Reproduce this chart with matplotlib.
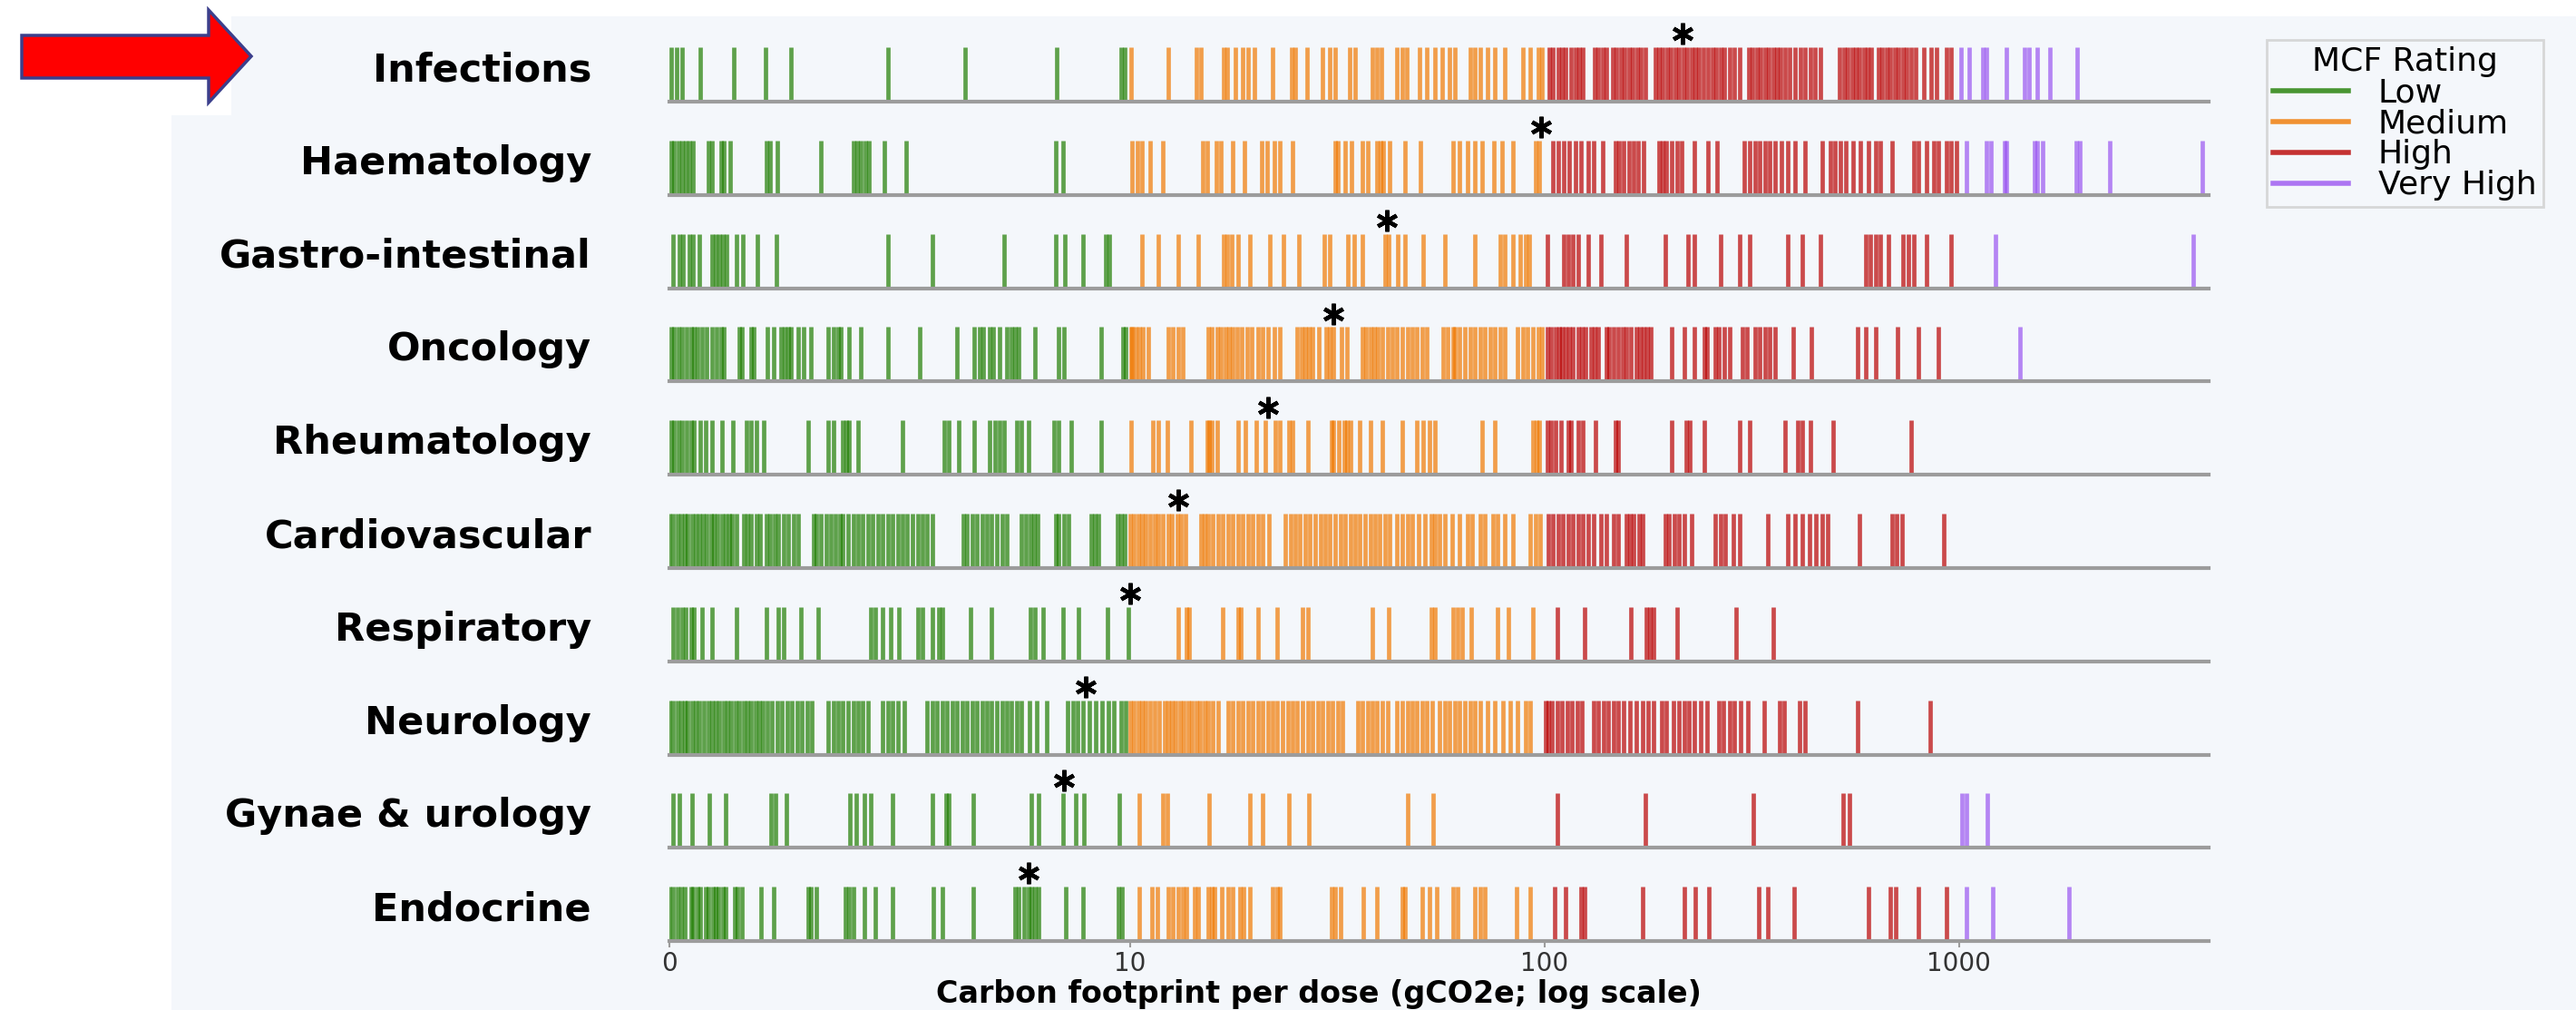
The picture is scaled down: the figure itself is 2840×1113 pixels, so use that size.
import matplotlib
matplotlib.use("Agg")
import matplotlib.pyplot as plt
from matplotlib.patches import Rectangle, Polygon
from matplotlib.lines import Line2D
from matplotlib.ticker import NullLocator

# ---------------- data ----------------
categories = ["Infections", "Haematology", "Gastro-intestinal", "Oncology", "Rheumatology",
              "Cardiovascular", "Respiratory", "Neurology", "Gynae & urology", "Endocrine"]

infections = [0.04, 0.15, 0.28, 0.68, 1.40, 2.08, 2.64, 4.74, 6.43, 8.42, 9.80, 9.89,
              10.04, 12.35, 14.5, 14.8, 16.8, 17.2, 17.95, 18.7, 19.25, 20.0, 22.1, 24.5, 25.0, 26.8,
              29.1, 30.3, 31.2, 33.9, 34.9, 38.4, 39.5, 40.4, 44.1, 45.3, 46.6, 50.0, 52.0,
              54.3, 56.6, 59.0, 60.7, 66.1, 68.0, 69.9, 72.9, 76.0, 80.4, 88.6, 92.4, 96.4, 98.5,
              102.5, 105.0, 107.8, 110.3, 112.6, 115.9, 118.6, 121.3, 124.0, 131.9, 134.9, 137.9,
              141.0, 146.0, 149.3, 152.7, 156.0, 159.6, 163.2, 167.0, 170.8, 174.7, 184.7, 188.8,
              193.1, 197.5, 202.0, 206.6, 211.2, 216.0, 220.9, 225.9, 231.1, 236.3, 241.7, 248.4,
              253.9, 259.7, 265.6, 271.6, 279.4, 287.3, 295.5, 310.9, 318.0, 325.2, 332.4, 340.0,
              347.7, 355.6, 363.7, 371.9, 380.1, 391.0, 402.1, 413.5, 425.2, 437.2, 449.6, 462.4,
              515.8, 527.5, 539.5, 551.7, 564.2, 575.2, 588.5, 601.8, 615.5, 638.6, 653.1, 667.9,
              683.1, 698.5, 714.4, 730.6, 747.1, 765.5, 787.2, 821.5, 857.3, 880.4, 931, 957,
              1013, 1059, 1139, 1165, 1302, 1437, 1477, 1541, 1653, 1928]

haematology = [0.04, 0.11, 0.19, 0.28, 0.36, 0.44, 0.51, 0.84, 0.92, 1.12, 1.19, 1.32, 2.10, 2.19,
               2.34, 3.29, 3.99, 4.07, 4.15, 4.26, 4.34, 4.66, 5.14, 8.40, 8.54,
               10.1, 10.4, 10.7, 11.2, 12.0, 15.0, 15.4, 16.2, 16.6, 17.7, 18.9, 20.8, 21.4, 22.3,
               23.0, 24.7, 31.2, 31.8, 33.0, 34.2, 36.4, 37.5, 39.5, 40.2, 40.9, 42.4, 46.1, 50.3,
               60.3, 62.5, 65.2, 68.0, 70.8, 75.5, 78.9, 83.8, 95.0, 97.2,
               105.0, 107.8, 111.5, 114.7, 118.6, 122.3, 127.5, 131.1, 137.9, 148.5, 151.5, 155.0,
               159.6, 164.1, 168.0, 173.7, 188.8, 193.1, 196.9, 202.6, 208.4, 214.3, 229.7, 248.4,
               260.5, 303.9, 312.5, 321.4, 330.5, 339.9, 349.6, 359.5, 372.4, 385.5, 402.1, 425.2,
               468.9, 489.1, 502.9, 517.2, 531.9, 554.7, 578.5, 603.4, 629.2, 647.1, 690, 777, 799,
               834, 870, 893, 931, 957, 985,
               1042, 1165, 1192, 1287, 1302, 1520, 1541, 1594, 1917, 1955, 2314, 3860]

gastro = [0.08, 0.22, 0.30, 0.44, 0.51, 0.65, 0.92, 1.01, 1.08, 1.16, 1.24, 1.46, 1.59, 1.91, 2.32,
          4.74, 5.71, 7.27, 8.40, 8.58, 8.99, 9.48, 9.55,
          10.7, 11.7, 13.1, 14.6, 16.8, 17.2, 17.6, 18.2, 19.5, 21.8, 23.5, 25.6, 29.5, 30.4, 33.5,
          34.7, 36.3, 41.2, 42.0, 44.3, 46.0, 50.9, 57.4, 68.0, 78.1, 80.4, 83.8, 87.5, 90.1, 91.8,
          101.5, 111.5, 114.0, 116.9, 120.7, 127.5, 136.8, 157.3, 195.9, 222, 230, 265.6, 295.5,
          312.5, 385.5, 419.3, 462.4, 595, 611, 629, 647, 676, 734, 755, 777, 834, 957,
          1226, 3672]

oncology = [0.04, 0.11, 0.19, 0.28, 0.38, 0.47, 0.54, 0.62, 0.71, 0.81, 0.92, 1.03, 1.12, 1.19,
            1.51, 1.57, 1.78, 1.84, 2.13, 2.27, 2.43, 2.51, 2.59, 2.64, 2.80, 2.91, 3.07, 3.45,
            3.56, 3.67, 3.72, 3.91, 4.15, 4.74, 5.44, 6.25, 6.62, 6.73, 6.82, 6.95, 7.03, 7.16,
            7.32, 7.43, 7.51, 7.59, 7.94, 8.45, 8.56, 9.37, 9.85, 9.91,
            10.05, 10.12, 10.32, 10.53, 10.76, 11.06, 12.36, 12.71, 13.06, 13.39, 15.43, 15.79,
            16.23, 16.55, 17.02, 17.36, 17.71, 18.12, 18.63, 19.15, 19.69, 20.34, 20.91, 21.5,
            22.3, 23.05, 25.35, 25.93, 26.45, 26.98, 27.58, 28.56, 29.8, 30.4, 30.98, 32.4, 33.3,
            36.4, 37.2, 38.0, 38.9, 39.7, 40.63, 41.8, 42.9, 44.1, 45.4, 46.67, 48.0, 49.3, 50.7,
            52.1, 56.9, 58.5, 60.2, 60.7, 62.5, 64.3, 66.1, 68.0, 69.9, 71.8, 73.9, 76.0, 78.1,
            80.4, 86.2, 88.6, 91.1, 93.7, 96.4, 98.5,
            101.5, 103.6, 106.5, 108.4, 110.3, 112.4, 114.7, 117.3, 120.6, 122.9, 125.7, 129.3,
            131.9, 134.9, 141.0, 143.5, 146.8, 150.9, 154.1, 157.2, 161.8, 166.4, 169.7, 173.7,
            177.2, 180.6, 202.6, 217.2, 229.7, 242.9, 246.3, 258.4, 262.8, 271.6, 279.4, 299.7,
            308.2, 321.4, 330.5, 339.9, 349.6, 359.5, 397.3, 440, 570, 595, 629, 711, 799, 893,
            1404]

rheumatology = [0.04, 0.11, 0.19, 0.28, 0.38, 0.47, 0.54, 0.68, 0.79, 0.92, 1.14, 1.38, 1.67,
                1.78, 1.89, 2.05, 3.02, 3.45, 3.56, 3.77, 3.85, 3.91, 4.10, 5.06, 5.96, 6.07,
                6.28, 6.62, 6.95, 7.08, 7.16, 7.27, 7.54, 7.65, 7.79, 8.35, 8.45, 8.72, 9.37,
                10.05, 11.37, 11.69, 12.3, 14.0, 15.35, 15.5, 15.79, 16.23, 18.2, 19.0, 20.2,
                21.2, 22.4, 23.05, 24.2, 24.7, 26.83, 30.6, 31.0, 31.9, 32.8, 33.3, 34.0, 35.9,
                38.0, 40.6, 45.4, 49.3, 51.0, 52.8, 54.3, 70.8, 76.0, 93.7, 95.8, 96.9,
                101.5, 103.6, 106.5, 109.4, 114.0, 115.8, 120.6, 124.0, 132.9, 148.6, 150.9,
                202.6, 220.0, 224.6, 242.9, 295.5, 312.5, 380.1, 407.8, 419.3, 437.2, 496, 765.5]

cardiovascular = [0.01, 0.08, 0.17, 0.25, 0.33, 0.40, 0.49, 0.58, 0.65, 0.73, 0.81, 0.90, 0.97,
                  1.05, 1.14, 1.22, 1.30, 1.37, 1.46, 1.62, 1.70, 1.78, 1.89, 1.98, 2.10, 2.19,
                  2.28, 2.37, 2.48, 2.59, 2.70, 2.80, 3.13, 3.20, 3.29, 3.40, 3.50, 3.61, 3.70,
                  3.77, 3.88, 3.99, 4.10, 4.20, 4.31, 4.42, 4.53, 4.63, 4.74, 4.85, 4.96, 5.06,
                  5.17, 5.28, 5.39, 5.49, 5.60, 5.71, 6.39, 6.46, 6.57, 6.68, 6.79, 6.89, 7.00,
                  7.11, 7.22, 7.32, 7.65, 7.75, 7.83, 7.92, 8.00, 8.40, 8.45, 8.56, 8.67, 9.15,
                  9.23, 9.32, 9.72, 9.80, 9.88,
                  10.03, 10.24, 10.47, 10.71, 10.93, 11.2, 11.46, 11.69, 12.02, 12.36, 12.62,
                  12.98, 13.25, 13.62, 14.8, 15.1, 15.43, 15.86, 16.31, 16.77, 17.24, 17.71,
                  18.21, 18.72, 19.24, 19.78, 20.34, 20.91, 21.6, 23.7, 24.4, 25.05, 25.75, 26.5,
                  27.2, 28.0, 28.8, 29.6, 30.4, 31.3, 32.2, 33.1, 34.0, 35.0, 35.9, 36.9, 38.0,
                  39.0, 40.1, 41.2, 42.4, 44.0, 45.4, 46.7, 48.0, 49.6, 51.4, 53.2, 54.3, 55.8,
                  57.4, 59.8, 62.5, 65.2, 67.0, 69.9, 71.8, 75.0, 77.1, 80.4, 83.8, 92.4, 95.0,
                  97.7,
                  102.1, 105.0, 107.8, 110.9, 114.0, 117.3, 120.6, 124.0, 127.5, 131.1, 136.8,
                  141.0, 146.8, 150.9, 157.3, 160.4, 164.1, 168.8, 172.6, 195.4, 200.0, 205.4,
                  211.2, 217.2, 226.9, 258.4, 265.6, 273.3, 285.6, 295.5, 345.2, 385.5, 402.1,
                  419.3, 435, 452.6, 468.9, 482.3, 575, 688, 707, 727, 917]

respiratory = [0.08, 0.17, 0.28, 0.36, 0.47, 0.54, 0.71, 0.92, 1.46, 2.10, 2.37, 2.48, 2.86, 3.24,
               4.37, 4.47, 4.63, 4.80, 4.99, 5.39, 5.49, 5.71, 5.85, 5.93, 6.54, 7.00, 7.83, 7.94,
               8.11, 8.54, 8.89, 9.51, 9.96,
               13.06, 13.7, 13.9, 16.77, 18.21, 18.5, 20.34, 22.6, 26.1, 26.83, 38.4, 42.0, 53.2,
               54.3, 60.2, 61.6, 63.4, 66.7, 77.1, 82.0, 93.7,
               107.2, 124.7, 161.8, 176.1, 179.6, 183.6, 209.4, 289.7, 355.6]

neurology = [0.01, 0.08, 0.17, 0.25, 0.33, 0.40, 0.49, 0.58, 0.66, 0.75, 0.84, 0.92, 1.01, 1.09,
             1.18, 1.27, 1.35, 1.44, 1.52, 1.61, 1.70, 1.78, 1.87, 1.95, 2.04, 2.13, 2.23, 2.34,
             2.45, 2.56, 2.66, 2.77, 2.88, 2.99, 3.09, 3.45, 3.56, 3.67, 3.77, 3.88, 3.99, 4.10,
             4.20, 4.31, 4.63, 4.74, 4.85, 4.96, 5.10, 5.60, 5.71, 5.82, 5.93, 6.03, 6.14, 6.25,
             6.36, 6.46, 6.57, 6.68, 6.79, 6.89, 7.00, 7.11, 7.22, 7.32, 7.43, 7.54, 7.65, 7.81,
             7.97, 8.19, 8.65, 8.76, 8.86, 8.99, 9.12, 9.26, 9.40, 9.53, 9.66, 9.80, 9.91,
             10.03, 10.24, 10.47, 10.71, 10.93, 11.2, 11.5, 11.79, 12.1, 12.36, 12.62, 12.9, 13.2,
             13.5, 13.8, 14.1, 14.45, 14.77, 15.1, 15.43, 15.86, 16.31, 17.24, 17.71, 18.21, 18.72,
             19.24, 19.78, 20.34, 20.91, 21.5, 22.1, 22.7, 23.36, 24.0, 24.7, 25.35, 26.1, 26.83,
             27.6, 28.4, 29.2, 30.0, 30.81, 31.7, 32.6, 35.38, 36.4, 37.4, 38.4, 39.5, 40.63,
             41.8, 44.1, 45.4, 46.67, 48.0, 49.3, 50.7, 52.1, 53.6, 55.8, 57.4, 59.0, 60.7, 62.5,
             64.3, 66.1, 68.0, 69.9, 72.9, 76.0, 79.3, 82.7, 86.2, 89.9, 92.4,
             100.5, 102.1, 104.4, 107.2, 110.3, 113.4, 116.6, 119.9, 123.3, 131.1, 134.9, 138.7,
             142.7, 146.8, 150.9, 155.2, 160.4, 166.4, 172.6, 177.5, 183.6, 191.5, 196.9, 204.3,
             211.2, 217.2, 223.4, 229.7, 237.6, 246.3, 262.8, 270.3, 279.4, 287.3, 297.2, 309.0,
             338.2, 369.6, 377.7, 412.3, 424.0, 569, 850]

gynae_urology = [0.08, 0.22, 0.49, 0.87, 1.22, 2.21, 2.30, 2.54, 3.93, 4.06, 4.24, 4.37, 4.85,
                 5.71, 6.00, 6.07, 6.60, 7.86, 8.02, 8.54, 8.83, 9.01, 9.77,
                 10.53, 12.02, 12.3, 15.5, 19.5, 20.91, 24.2, 27.0, 46.67, 54.0,
                 107.2, 175.1, 318.6, 525, 545,
                 1018, 1042, 1171]

endocrine = [0.01, 0.08, 0.17, 0.25, 0.33, 0.47, 0.51, 0.62, 0.68, 0.79, 0.84, 0.94, 1.01, 1.07,
             1.16, 1.22, 1.41, 1.48, 1.57, 2.00, 2.27, 3.02, 3.07, 3.20, 3.83, 3.91, 3.99, 4.24,
             4.47, 4.85, 5.74, 5.93, 6.60, 7.51, 7.59, 7.70, 7.79, 7.86, 7.94, 8.02, 8.61, 8.99,
             9.75, 9.83,
             10.53, 11.3, 11.63, 12.36, 12.71, 13.06, 13.43, 13.7, 14.3, 14.6, 15.43, 15.79, 15.97,
             16.68, 17.24, 17.71, 18.46, 18.83, 19.5, 22.1, 22.6, 23.05, 30.6, 31.25, 32.2, 36.6,
             39.5, 45.4, 46.0, 50.7, 52.8, 55.0, 60.2, 61.6, 68.0, 69.9, 71.8, 85.5, 92.4,
             105.6, 112.4, 122.3, 124.7, 172.6, 217.2, 231.1, 249.8, 328.8, 345.2, 400.5, 603.4,
             684, 704, 799, 931,
             1042, 1205, 1843]

row_values = [infections, haematology, gastro, oncology, rheumatology,
              cardiovascular, respiratory, neurology, gynae_urology, endocrine]

# marked (asterisk) value per category
medians = [215, 98, 41.7, 31.0, 21.5, 13.1, 10.0, 9.05, 8.56, 7.8]

rating_labels = ["Low", "Medium", "High", "Very High"]
rating_bounds = [10, 100, 1000]
rating_colors = ["#1e7d00", "#f07800", "#b90000", "#9a55f0"]

tick_values = [0, 10, 100, 1000]
tick_labels = ["0", "10", "100", "1000"]

# ---------------- figure ----------------
W, H = 2840, 1113
BG = "#f4f7fb"
fig = plt.figure(figsize=(W / 100, H / 100), dpi=100)
fig.patch.set_facecolor("white")

fig.add_artist(Rectangle((189 / W, 0), 1 - 189 / W, 1 - 18 / H, transform=fig.transFigure,
                         facecolor=BG, edgecolor="none", zorder=-10))
fig.add_artist(Rectangle((0, 1 - 127 / H), 255 / W, 127 / H, transform=fig.transFigure,
                         facecolor="white", edgecolor="none", zorder=-9))

arrow_px = [(24, 39), (230, 39), (230, 11), (277, 62), (230, 113), (230, 86), (24, 86)]
fig.add_artist(Polygon([(x / W, 1 - y / H) for x, y in arrow_px], closed=True,
                       transform=fig.transFigure, facecolor="#ff0000",
                       edgecolor="#3b3f8c", linewidth=2.5, zorder=5))


def rating_color(v):
    for b, c in zip(rating_bounds, rating_colors):
        if v < b:
            return c
    return rating_colors[-1]


left_px, right_px = 737.9, 2435.0
row_h = 90
for i, (name, vals, med) in enumerate(zip(categories, row_values, medians)):
    base = 112 + 102.8 * i
    ax = fig.add_axes([left_px / W, 1 - base / H, (right_px - left_px) / W, row_h / H])
    ax.set_xscale("symlog", linthresh=10, linscale=1)
    ax.set_xlim(0, 4000)
    ax.set_ylim(0, 1)
    ax.patch.set_visible(False)
    ax.vlines(vals, 0, 0.667, colors=[rating_color(v) for v in vals], alpha=0.7, lw=3.4)
    ax.plot([med], [0.83], marker=(6, 2, 0), ms=17, mew=3.2, color="black",
            linestyle="none", clip_on=False)
    for s in ("top", "left", "right"):
        ax.spines[s].set_visible(False)
    ax.spines["bottom"].set_color("#9c9c9c")
    ax.spines["bottom"].set_linewidth(3)
    ax.set_yticks([])
    ax.xaxis.set_minor_locator(NullLocator())
    if i == len(categories) - 1:
        ax.set_xticks(tick_values)
        ax.set_xticklabels(tick_labels)
        ax.tick_params(axis="x", length=5, width=1.5, color="#9c9c9c", labelsize=20,
                       labelcolor="#333333", pad=3)
    else:
        ax.set_xticks([])
    fig.text(652 / W, 1 - (base - 35) / H, name, ha="right", va="center",
             fontsize=31, fontweight="bold", color="black")

fig.text(1454 / W, 1 - 1096 / H, "Carbon footprint per dose (gCO2e; log scale)",
         ha="center", va="center", fontsize=24, fontweight="bold", color="black")

handles = [Line2D([0], [0], color=c, lw=4, alpha=0.8) for c in rating_colors]
leg = fig.legend(handles, rating_labels, title="MCF Rating", loc="upper left",
                 bbox_to_anchor=(2499 / W, 1 - 44 / H), fontsize=26, title_fontsize=26,
                 frameon=True, facecolor=BG, edgecolor="#cfcfcf", labelspacing=0.0,
                 handlelength=2.3, handletextpad=0.9, borderpad=0.2, borderaxespad=0,
                 fancybox=False)
leg.get_frame().set_linewidth(2)

fig.savefig("out.png", dpi=100, facecolor=fig.get_facecolor())
